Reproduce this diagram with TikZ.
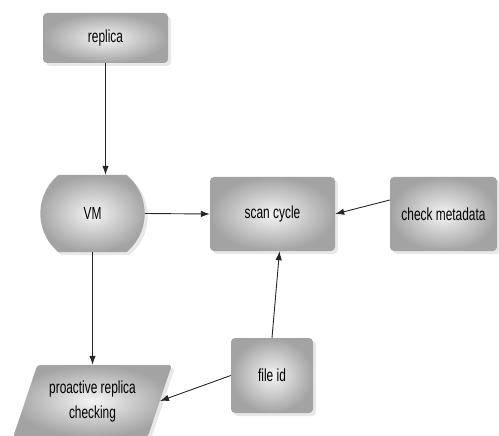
\documentclass[tikz,border=0pt]{standalone}
\usepackage{fontspec}
\setmainfont{Liberation Sans}[FakeStretch=0.68]
\usetikzlibrary{shapes.geometric,shapes.misc,shadows,arrows.meta}

\tikzset{
	kasten/.style={draw=none, shading=radial, inner color=gray!8, outer color=gray!72,
		drop shadow={shadow xshift=3pt, shadow yshift=-3pt, fill=gray!30, opacity=0.6},
		font=\fontsize{17.5}{25}\selectfont, align=center},
	pfeil/.style={-{Latex[length=9pt,width=6.5pt]}, line width=0.9pt, draw=black!85}
}

\begin{document}
\begin{tikzpicture}[x=1pt, y=-1pt]
	
	%Rahmen
	\useasboundingbox (0,0) rectangle (499,436);
	
	%Bloecke
	\node[kasten, rounded corners=4pt, minimum width=125pt, minimum height=50pt] (replica) at (105.5,38) {replica};
	\node[kasten, rounded rectangle, rounded rectangle arc length=100, minimum width=111pt, minimum height=77pt] (VM) at (92.5,213.5) {VM};
	\node[kasten, rounded corners=4pt, minimum width=125pt, minimum height=74pt] (scan) at (272.5,214) {scan cycle};
	\node[kasten, rounded corners=4pt, minimum width=107pt, minimum height=74pt] (metadata) at (443.5,214) {check metadata};
	\node[kasten, rounded corners=4pt, minimum width=82pt, minimum height=75pt] (fileid) at (272,375.5) {file id};
	\node[kasten, trapezium, trapezium left angle=67, trapezium right angle=113, trapezium stretches=true, minimum width=159pt, minimum height=72pt, rounded corners=3pt] (proactive) at (92.5,401) {proactive replica\\checking};
	
	%Pfeile
	\draw[pfeil] (replica.south) -- (replica.south |- VM.north);
	\draw[pfeil] (VM.east) -- (scan.west);
	\draw[pfeil] ([yshift=14pt]metadata.west) -- (scan.east);
	\draw[pfeil] (fileid.north) -- ([xshift=7pt]scan.south);
	\draw[pfeil] (VM.south) -- (proactive.north);
	\draw[pfeil] (fileid.west) -- (proactive.east);
	
\end{tikzpicture}
\end{document}
